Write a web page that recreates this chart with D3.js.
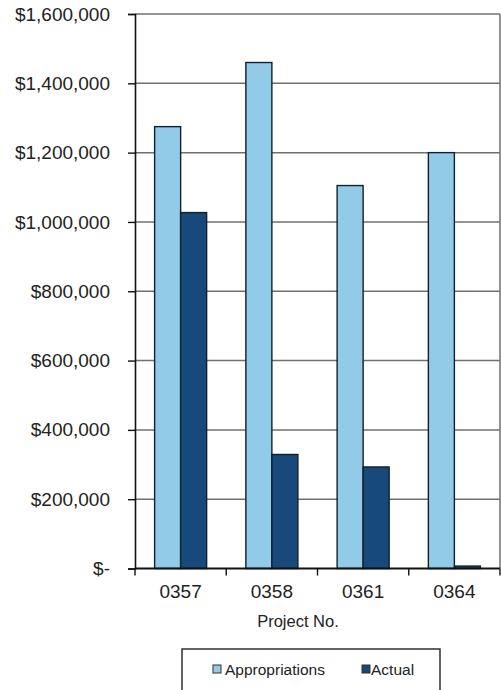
<!DOCTYPE html>
<html>
<head>
<meta charset="utf-8">
<script src="https://cdn.jsdelivr.net/npm/d3@7"></script>
<style>
  html, body { margin: 0; padding: 0; background: #fff; }
  svg { display: block; font-family: "Liberation Sans", Arial, sans-serif; }
</style>
</head>
<body>
<svg id="chart" width="501" height="690"></svg>
<script>
const projects = ["0357", "0358", "0361", "0364"];
const seriesNames = ["Appropriations", "Actual"];
const appropriations = [1275000, 1460000, 1105000, 1200000];
const actual = [1027000, 329000, 293000, 7000];
const yTicks = [0, 200000, 400000, 600000, 800000, 1000000, 1200000, 1400000, 1600000];
const colors = ["#92cbe8", "#17497b"];

(function () {
const svg = d3.select("#chart");
const pLeft = 135, pRight = 500, pTop = 14, pBottom = 568.5;

const y = d3.scaleLinear().domain([0, 1600000]).range([pBottom, pTop]);
const x = d3.scaleBand().domain(projects).range([pLeft, pRight]).paddingInner(0.43).paddingOuter(0.215);
const x1 = d3.scaleBand().domain(seriesNames).range([0, x.bandwidth()]);

// gridlines
svg.append("g").selectAll("line").data(yTicks.filter(d => d > 0)).join("line")
  .attr("x1", pLeft).attr("x2", pRight)
  .attr("y1", d => y(d)).attr("y2", d => y(d))
  .attr("stroke", "#707070").attr("stroke-width", 1.5);

// right border
svg.append("line").attr("x1", pRight).attr("x2", pRight).attr("y1", pTop).attr("y2", pBottom)
  .attr("stroke", "#707070").attr("stroke-width", 1.5);

// bars
const data = projects.map((p, i) => ({ p, vals: [appropriations[i], actual[i]] }));
const groups = svg.append("g").selectAll("g").data(data).join("g")
  .attr("transform", d => `translate(${x(d.p)},0)`);
groups.selectAll("rect").data(d => d.vals.map((v, j) => ({ name: seriesNames[j], v, j }))).join("rect")
  .attr("x", d => x1(d.name))
  .attr("width", x1.bandwidth())
  .attr("y", d => y(d.v))
  .attr("height", d => y(0) - y(d.v))
  .attr("fill", d => colors[d.j])
  .attr("stroke", "#10202e").attr("stroke-width", 1.4);

// y axis
const yAxis = d3.axisLeft(y).tickValues(yTicks).tickSize(7).tickPadding(18)
  .tickFormat(d => d === 0 ? "$-" : d3.format("$,")(d));
const gy = svg.append("g").attr("transform", `translate(${pLeft},0)`).call(yAxis);
gy.select(".domain").attr("stroke", "#111").attr("stroke-width", 1.6);
gy.selectAll(".tick line").attr("stroke", "#111").attr("stroke-width", 1.4);
gy.selectAll(".tick text").attr("font-size", "19px").attr("fill", "#222")
  .attr("font-family", "Liberation Sans, Arial, sans-serif");

// x axis baseline
svg.append("line").attr("x1", pLeft).attr("x2", pRight).attr("y1", pBottom).attr("y2", pBottom)
  .attr("stroke", "#111").attr("stroke-width", 1.8);

// x category boundary ticks
const boundaries = projects.map(p => x(p) - x.step() * x.paddingOuter()).concat([pRight]);
svg.append("g").selectAll("line").data(boundaries).join("line")
  .attr("x1", d => d).attr("x2", d => d)
  .attr("y1", pBottom).attr("y2", pBottom + 7)
  .attr("stroke", "#111").attr("stroke-width", 1.4);

// x labels
svg.append("g").selectAll("text").data(projects).join("text")
  .attr("x", d => x(d) + x.bandwidth() / 2)
  .attr("y", 598)
  .attr("text-anchor", "middle")
  .attr("font-size", "19px").attr("fill", "#222")
  .text(d => d);

svg.append("text").attr("x", 298).attr("y", 627).attr("text-anchor", "middle")
  .attr("font-size", "16.5px").attr("fill", "#222").text("Project No.");

// legend
const lg = svg.append("g");
lg.append("rect").attr("x", 182).attr("y", 649).attr("width", 258).attr("height", 60)
  .attr("fill", "none").attr("stroke", "#222").attr("stroke-width", 1.4);
const legendPos = [{ mx: 213, tx: 225 }, { mx: 362, tx: 371 }];
seriesNames.forEach((n, i) => {
  lg.append("rect").attr("x", legendPos[i].mx).attr("y", 665).attr("width", 8).attr("height", 8)
    .attr("fill", colors[i]).attr("stroke", "#333").attr("stroke-width", 1);
  lg.append("text").attr("x", legendPos[i].tx).attr("y", 675)
    .attr("font-size", "15.5px").attr("fill", "#222").text(n);
});
})();
</script>
</body>
</html>
